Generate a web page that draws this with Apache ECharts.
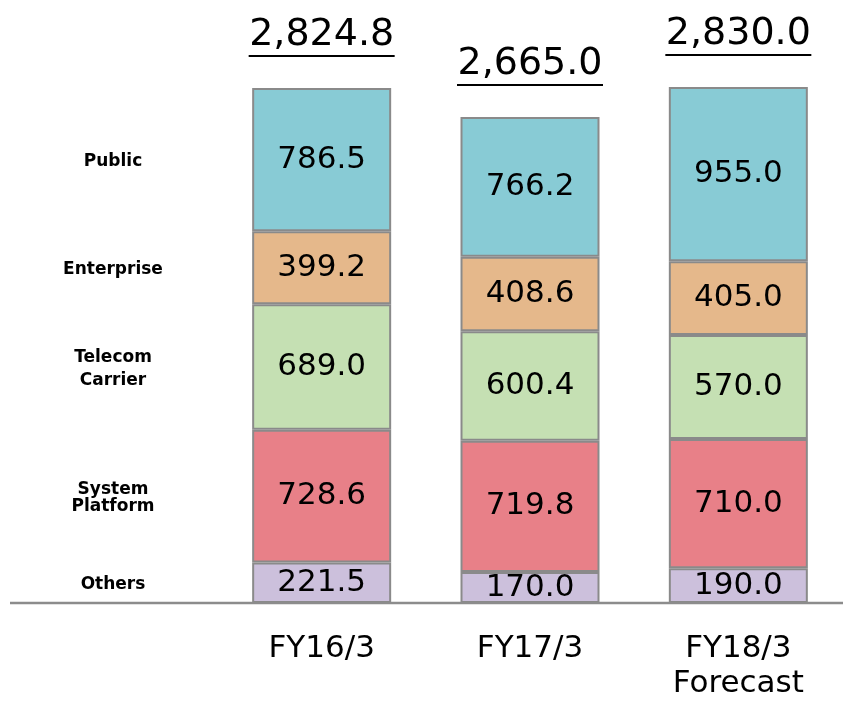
<!DOCTYPE html>
<html>
<head>
<meta charset="utf-8">
<script src="https://cdn.jsdelivr.net/npm/echarts@6/dist/echarts.min.js"></script>
<style>
html,body{margin:0;padding:0;background:#fff;}
#c{width:847px;height:703px;}
</style>
</head>
<body>
<div id="c"></div>
<script>
var categories = ['FY16/3', 'FY17/3', 'FY18/3\nForecast'];
var segmentNames = ['Others', 'System Platform', 'Telecom Carrier', 'Enterprise', 'Public'];
var segmentLabels = ['Others', 'System\nPlatform', 'Telecom\nCarrier', 'Enterprise', 'Public'];
var others = [221.5, 170.0, 190.0];
var systemPlatform = [728.6, 719.8, 710.0];
var telecomCarrier = [689.0, 600.4, 570.0];
var enterprise = [399.2, 408.6, 405.0];
var publicSeg = [786.5, 766.2, 955.0];
var totals = [2824.8, 2665.0, 2830.0];

var seriesValues = [others, systemPlatform, telecomCarrier, enterprise, publicSeg];
var colors = ['#CCC0DC', '#E88088', '#C5E0B3', '#E5B88B', '#88CBD5'];
var FONT = '"DejaVu Sans", Verdana, sans-serif';

function fmtTotal(v) {
  return v.toLocaleString('en-US', {minimumFractionDigits: 1, maximumFractionDigits: 1});
}

var series = seriesValues.map(function (vals, i) {
  return {
    name: segmentNames[i],
    type: 'bar',
    stack: 'total',
    barWidth: 139,
    data: vals,
    itemStyle: {color: colors[i], borderColor: '#8a8a8a', borderWidth: 2},
    label: {
      show: true,
      position: 'inside',
      color: '#000',
      fontFamily: FONT,
      fontSize: 31,
      formatter: function (p) { return p.value.toFixed(1); }
    },
    silent: true
  };
});

series.push({
  name: 'Total',
  type: 'bar',
  stack: 'total',
  barWidth: 139,
  data: totals.map(function () { return 0; }),
  itemStyle: {color: 'rgba(0,0,0,0)', borderWidth: 0},
  label: {
    show: true,
    position: 'top',
    distance: 31,
    formatter: function (p) { return '{v|' + fmtTotal(totals[p.dataIndex]) + '}\n{u|}'; },
    rich: {
      v: {fontFamily: FONT, fontSize: 38, color: '#000', lineHeight: 40, align: 'center'},
      u: {width: 146, height: 2, backgroundColor: '#000', align: 'center'}
    }
  },
  silent: true
});

var chart = echarts.init(document.getElementById('c'), null, {renderer: 'canvas'});
chart.setOption({
  animation: false,
  backgroundColor: '#fff',
  grid: {left: 217.5, right: 4.5, top: 56, bottom: 100, containLabel: false},
  xAxis: {
    type: 'category',
    data: categories,
    axisLine: {show: false},
    axisTick: {show: false},
    axisLabel: {fontFamily: FONT, fontSize: 31, color: '#000', lineHeight: 35, margin: 28}
  },
  yAxis: {
    type: 'value',
    min: 0,
    max: 3000,
    show: false,
    splitLine: {show: false}
  },
  series: series
});

// axis baseline and left-side segment labels, positioned from data
var baseY = chart.convertToPixel({yAxisIndex: 0}, 0);
var graphics = [{
  type: 'line',
  shape: {x1: 10, y1: baseY, x2: 843, y2: baseY},
  style: {stroke: '#8c8c8c', lineWidth: 2.5},
  z: 10
}];
var cum = 0;
var lineHeights = [20, 17, 23, 20, 20];
seriesValues.forEach(function (vals, i) {
  var mid = cum + vals[0] / 2;
  cum += vals[0];
  var y = chart.convertToPixel({yAxisIndex: 0}, mid);
  graphics.push({
    type: 'text',
    x: 113,
    y: y + 2,
    style: {
      text: segmentLabels[i],
      fontFamily: FONT,
      fontWeight: 'bold',
      fontSize: 17,
      lineHeight: lineHeights[i],
      fill: '#000',
      align: 'center',
      verticalAlign: 'middle'
    }
  });
});
chart.setOption({graphic: graphics});
</script>
</body>
</html>
